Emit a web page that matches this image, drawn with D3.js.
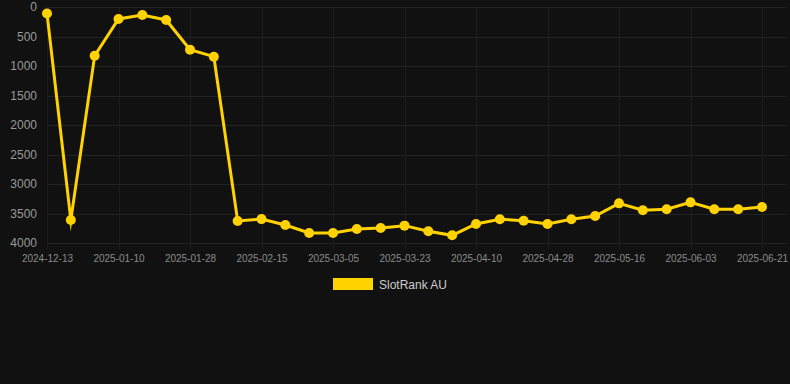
<!DOCTYPE html>
<html lang="en">
	<head>
		<meta charset="utf-8">
		<title>SlotRank AU</title>
		<script type="text/javascript" src="https://d3js.org/d3.v7.min.js"></script>
		<style type="text/css">
			body { margin: 0; background: #111111; }
			svg { display: block; font-family: "Liberation Sans", Arial, sans-serif; }
		</style>
	</head>
	<body>
		<script type="text/javascript">

			//Data
			var dates = ["2024-12-13", "2024-12-29", "2025-01-04", "2025-01-10", "2025-01-16", "2025-01-22",
			             "2025-01-28", "2025-02-03", "2025-02-09", "2025-02-15", "2025-02-21", "2025-02-27",
			             "2025-03-05", "2025-03-11", "2025-03-17", "2025-03-23", "2025-03-29", "2025-04-04",
			             "2025-04-10", "2025-04-16", "2025-04-22", "2025-04-28", "2025-05-04", "2025-05-10",
			             "2025-05-16", "2025-05-22", "2025-05-28", "2025-06-03", "2025-06-09", "2025-06-15",
			             "2025-06-21"];
			var ranks = [110, 3610, 825, 203, 136, 220, 723, 842, 3627, 3595, 3695, 3830,
			             3830, 3763, 3746, 3706, 3802, 3870, 3678, 3596, 3622, 3678, 3598, 3542,
			             3328, 3446, 3429, 3311, 3429, 3429, 3390];
			var yTicks = [0, 500, 1000, 1500, 2000, 2500, 3000, 3500, 4000];
			var seriesName = "SlotRank AU";

			//Width and height
			var w = 790;
			var h = 384;
			var padL = 47, padR = 786, padT = 7, padB = 243;
			var colour = "#ffd200";

			var svg = d3.select("body")
						.append("svg")
						.attr("width", w)
						.attr("height", h);

			var x = d3.scaleLinear()
					  .domain([0, dates.length - 1])
					  .range([padL, 762]);

			var y = d3.scaleLinear()
					  .domain([0, 4000])
					  .range([padT, padB]);

			//Grid
			svg.append("g")
			   .selectAll("line")
			   .data(yTicks)
			   .enter()
			   .append("line")
			   .attr("x1", padL)
			   .attr("x2", padR)
			   .attr("y1", function(d) { return Math.round(y(d)) + 0.5; })
			   .attr("y2", function(d) { return Math.round(y(d)) + 0.5; })
			   .attr("stroke", "#232323")
			   .attr("stroke-width", 1);

			var xTickIdx = d3.range(0, dates.length, 3);

			svg.append("g")
			   .selectAll("line")
			   .data(xTickIdx)
			   .enter()
			   .append("line")
			   .attr("x1", function(d) { return Math.round(x(d)) + 0.5; })
			   .attr("x2", function(d) { return Math.round(x(d)) + 0.5; })
			   .attr("y1", padT)
			   .attr("y2", padB + 6)
			   .attr("stroke", "#1d1d1d")
			   .attr("stroke-width", 1);

			//Y axis labels
			var yAxis = d3.axisLeft(y).tickValues(yTicks).tickFormat(d3.format("d")).tickSize(0).tickPadding(0);
			var gy = svg.append("g")
						.attr("transform", "translate(" + 37 + ",0)")
						.call(yAxis);
			gy.select(".domain").remove();
			gy.selectAll("text")
			  .attr("fill", "#999999")
			  .style("font-size", "12px")
			  .style("font-family", "Liberation Sans, Arial, sans-serif");

			//X axis labels
			var xAxis = d3.axisBottom(x)
						  .tickValues(xTickIdx)
						  .tickFormat(function(i) { return dates[i]; })
						  .tickSize(0)
						  .tickPadding(0);
			var gx = svg.append("g")
						.attr("transform", "translate(0," + 255 + ")")
						.call(xAxis);
			gx.select(".domain").remove();
			gx.selectAll("text")
			  .attr("fill", "#8a8a8a")
			  .style("font-size", "10px")
			  .style("font-family", "Liberation Sans, Arial, sans-serif");

			//Line
			var line = d3.line()
						 .x(function(d, i) { return x(i); })
						 .y(function(d) { return y(d); });

			svg.append("path")
			   .datum(ranks)
			   .attr("d", line)
			   .attr("fill", "none")
			   .attr("stroke", colour)
			   .attr("stroke-width", 3)
			   .attr("stroke-linejoin", "miter")
			   .attr("stroke-miterlimit", 10);

			svg.append("g")
			   .selectAll("circle")
			   .data(ranks)
			   .enter()
			   .append("circle")
			   .attr("cx", function(d, i) { return x(i); })
			   .attr("cy", function(d) { return y(d); })
			   .attr("r", 5)
			   .attr("fill", colour);

			//Legend
			svg.append("rect")
			   .attr("x", 333)
			   .attr("y", 278)
			   .attr("width", 40)
			   .attr("height", 12)
			   .attr("fill", colour);

			svg.append("text")
			   .attr("x", 379)
			   .attr("y", 288.5)
			   .attr("fill", "#cccccc")
			   .style("font-size", "12px")
			   .text(seriesName);

		</script>
	</body>
</html>
